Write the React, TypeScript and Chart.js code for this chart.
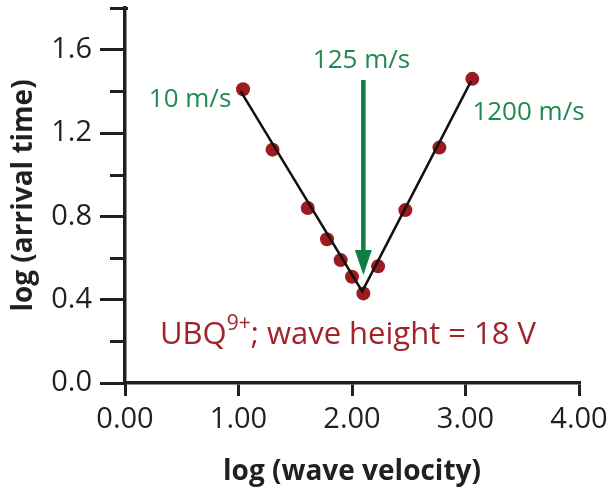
import React, { useEffect, useRef } from 'react';
import { Chart, registerables } from 'chart.js';

Chart.register(...registerables);

// ---- data ----
const velocityLog = [1.04, 1.3, 1.61, 1.78, 1.9, 2.0, 2.1, 2.23, 2.47, 2.77, 3.06];
const arrivalLog = [1.41, 1.12, 0.84, 0.69, 0.59, 0.51, 0.43, 0.56, 0.83, 1.13, 1.46];
const fitX = [1.02, 2.09, 3.05];
const fitY = [1.4, 0.44, 1.45];
const xTickValues = [0, 1, 2, 3, 4];
const yMajorTicks = [0, 0.4, 0.8, 1.2, 1.6];
const yMinorTicks = [0.2, 0.6, 1.0, 1.4, 1.8];
const greenLabels = ['10 m/s', '125 m/s', '1200 m/s'];
const greenLabelX = [0.573, 2.084, 3.555];
const greenLabelY = [1.325, 1.512, 1.263];
const arrowX = 2.1;
const arrowFromY = 1.455;
const arrowToY = 0.518;
const conditionMain = 'UBQ';
const conditionSup = '9+';
const conditionRest = '; wave height = 18 V';
const conditionX = 0.308;
const conditionY = 0.187;

const INK = '#231f20';
const GREEN_TEXT = '#1f8a50';
const GREEN_ARROW = '#0f7f40';
const RED = '#a3232c';
const POINT = '#9c1a22';
const FONT = '"Open Sans", sans-serif';

const overlay = {
  id: 'overlay',
  afterDraw(chart: any) {
    const ctx = chart.ctx;
    const xs = chart.scales.x;
    const ys = chart.scales.y;
    const left = ys.right;
    ctx.save();
    // minor y ticks
    ctx.fillStyle = INK;
    for (let i = 0; i < yMinorTicks.length; i++) {
      const py = Math.round(ys.getPixelForValue(yMinorTicks[i]));
      const extra = i === yMinorTicks.length - 1 ? 3 : 1;
      ctx.fillRect(left - 15, py - 1, 15 + extra, 3);
    }
    // arrow
    const ax = xs.getPixelForValue(arrowX);
    const ay0 = ys.getPixelForValue(arrowFromY);
    const ay1 = ys.getPixelForValue(arrowToY);
    const headLen = 25;
    const headHalf = 8.5;
    ctx.strokeStyle = GREEN_ARROW;
    ctx.fillStyle = GREEN_ARROW;
    ctx.lineWidth = 4.5;
    ctx.beginPath();
    ctx.moveTo(ax, ay0);
    ctx.lineTo(ax, ay1 - headLen + 2);
    ctx.stroke();
    ctx.beginPath();
    ctx.moveTo(ax - headHalf, ay1 - headLen);
    ctx.lineTo(ax + headHalf, ay1 - headLen);
    ctx.lineTo(ax, ay1);
    ctx.closePath();
    ctx.fill();
    // green labels
    ctx.font = `26px ${FONT}`;
    ctx.fillStyle = GREEN_TEXT;
    ctx.textAlign = 'center';
    ctx.textBaseline = 'alphabetic';
    greenLabels.forEach((t, i) => {
      ctx.fillText(t, xs.getPixelForValue(greenLabelX[i]), ys.getPixelForValue(greenLabelY[i]));
    });
    // condition label
    ctx.fillStyle = RED;
    ctx.textAlign = 'left';
    let cx = xs.getPixelForValue(conditionX);
    const cy = ys.getPixelForValue(conditionY);
    ctx.font = `31px ${FONT}`;
    ctx.fillText(conditionMain, cx, cy);
    cx += ctx.measureText(conditionMain).width;
    ctx.font = `21px ${FONT}`;
    ctx.fillText(conditionSup, cx, cy - 14);
    cx += ctx.measureText(conditionSup).width;
    ctx.font = `31px ${FONT}`;
    ctx.fillText(conditionRest, cx, cy);
    ctx.restore();
  },
};

export default function App() {
  const ref = useRef<HTMLCanvasElement | null>(null);
  useEffect(() => {
    if (!ref.current) return;
    const chart = new Chart(ref.current, {
      type: 'scatter',
      data: {
        datasets: [
          {
            type: 'line',
            data: fitX.map((x, i) => ({ x, y: fitY[i] })),
            borderColor: '#111111',
            borderWidth: 2.5,
            pointRadius: 0,
            fill: false,
            order: 0,
          } as any,
          {
            type: 'scatter',
            data: velocityLog.map((x, i) => ({ x, y: arrivalLog[i] })),
            backgroundColor: POINT,
            borderColor: POINT,
            borderWidth: 0,
            pointRadius: 7,
            order: 1,
          },
        ],
      },
      options: {
        animation: false,
        responsive: false,
        events: [],
        layout: { padding: { left: 0, top: 8, right: 34, bottom: 0 } },
        plugins: { legend: { display: false }, tooltip: { enabled: false } },
        scales: {
          x: {
            type: 'linear',
            min: 0,
            max: 4,
            afterBuildTicks: (s: any) => {
              s.ticks = xTickValues.map((v) => ({ value: v }));
            },
            afterFit: (s: any) => {
              s.height = 109;
              s.paddingLeft = 0;
              s.paddingRight = 0;
            },
            ticks: {
              callback: (v: any) => Number(v).toFixed(2),
              color: INK,
              font: { family: FONT, size: 29 },
              padding: 6,
              maxRotation: 0,
              autoSkip: false,
            },
            grid: { drawOnChartArea: false, drawTicks: true, tickLength: 13, lineWidth: 3, color: INK },
            border: { display: true, color: INK, width: 3.5 },
            title: {
              display: true,
              text: 'log (wave velocity)',
              color: INK,
              font: { family: FONT, size: 28, weight: 'bold' },
              padding: { top: 0, bottom: 3 },
            },
          },
          y: {
            type: 'linear',
            min: 0,
            max: 1.8,
            afterBuildTicks: (s: any) => {
              s.ticks = yMajorTicks.map((v) => ({ value: v }));
            },
            afterFit: (s: any) => {
              s.width = 125;
              s.paddingTop = 0;
              s.paddingBottom = 0;
            },
            ticks: {
              callback: (v: any) => Number(v).toFixed(1),
              color: INK,
              font: { family: FONT, size: 29 },
              padding: 8,
              autoSkip: false,
            },
            grid: { drawOnChartArea: false, drawTicks: true, tickLength: 25, lineWidth: 3, color: INK },
            border: { display: true, color: INK, width: 3.5 },
            title: {
              display: true,
              text: 'log (arrival time)',
              color: INK,
              font: { family: FONT, size: 28, weight: 'bold' },
              padding: { top: 7, bottom: 0 },
            },
          },
        },
      },
      plugins: [overlay],
    });
    return () => chart.destroy();
  }, []);
  return (
    <div style={{ position: 'fixed', left: 0, top: 0, width: 613, height: 492, background: '#fff' }}>
      <canvas ref={ref} width={613} height={492} style={{ display: 'block' }} />
    </div>
  );
}
